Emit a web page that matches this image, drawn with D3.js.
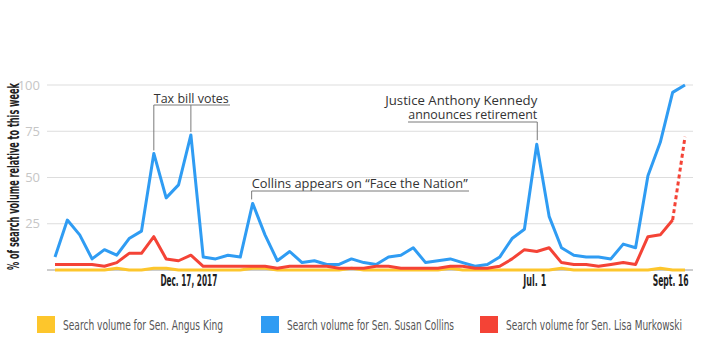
<!DOCTYPE html>
<html>
<head>
<meta charset="utf-8">
<script src="https://cdn.jsdelivr.net/npm/d3@7"></script>
<style>
  html, body { margin: 0; padding: 0; background: #fff; }
  svg { display: block; }
</style>
</head>
<body>
<svg id="chart" width="720" height="360"></svg>
<script>
// ---------- DATA ----------
const weekCount = 52;
const startWeek = new Date(2017, 9, 1);   // week of Oct. 1, 2017
const weeks = d3.range(weekCount).map(i => d3.timeWeek.offset(startWeek, i));

const kingValues = [0,0,0,0,0,1,0,0,1,1,0,0,0,0,0,0,1,1,0,0,0,0,0,0,1,0,0,0,0,0,0,0,1,0,0,0,0,0,0,0,0,1,0,0,0,0,0,0,0,1,0,0];
const collinsValues = [7,27,19,6,11,8,17,21,63,39,46,73,7,6,8,7,36,19,5,10,4,5,3,3,6,4,3,7,8,12,4,5,6,4,2,3,7,17,22,68,29,12,8,7,7,6,14,12,51,69,96,100];
const murkowskiValues = [3,3,3,3,2,4,9,9,18,6,5,8,2,2,2,2,2,2,1,2,2,2,2,1,1,1,2,2,1,1,1,1,2,2,1,1,2,6,11,10,12,4,3,3,2,3,4,3,18,19,27,72];

const yTicks = [25, 50, 75, 100];
const xTickDates = [new Date(2017, 11, 17), new Date(2018, 6, 1), new Date(2018, 8, 16)];
const xTickLabels = ["Dec. 17, 2017", "Jul. 1", "Sept. 16"];

const seriesNames = ["Search volume for Sen. Angus King", "Search volume for Sen. Susan Collins", "Search volume for Sen. Lisa Murkowski"];
const seriesColors = ["#fdc62c", "#2f9cf3", "#f44336"];

const annotationTexts = [["Tax bill votes"], ["Collins appears on \u201cFace the Nation\u201d"], ["Justice Anthony Kennedy", "announces retirement"]];
const annotationWeeks = [[8, 11], [16], [39]];

// ---------- CHART ----------
const svg = d3.select("#chart");
const x = d3.scaleTime().domain([weeks[0], weeks[weekCount - 1]]).range([55, 685]);
const y = d3.scaleLinear().domain([0, 100]).range([270, 85]);
const font = "'Open Sans', 'Noto Sans', sans-serif";
const narrow = "'Liberation Sans Narrow', 'DejaVu Sans Condensed', 'Roboto', sans-serif";

// gridlines
svg.append("g").selectAll("line").data(yTicks).join("line")
  .attr("x1", 47).attr("x2", 693)
  .attr("y1", d => y(d)).attr("y2", d => y(d))
  .attr("stroke", "#dddddd").attr("stroke-width", 1);

// y tick labels
svg.append("g").selectAll("text").data(yTicks).join("text")
  .attr("x", 40).attr("y", d => y(d))
  .attr("dy", "0.35em")
  .attr("text-anchor", "end")
  .attr("font-family", font).attr("font-size", 13)
  .attr("fill", "#c6c6c6")
  .text(d => d);

// baseline
svg.append("line")
  .attr("x1", 47).attr("x2", 693)
  .attr("y1", y(0)).attr("y2", y(0))
  .attr("stroke", "#9a9a9a").attr("stroke-width", 1);

// y-axis title
svg.append("text")
  .attr("transform", `translate(13.5,${(y(0) + 83) / 2}) rotate(-90)`)
  .attr("text-anchor", "middle").attr("dy", "0.35em")
  .attr("font-family", narrow)
  .attr("font-size", 15).attr("font-weight", 600)
  .attr("fill", "#222")
  .attr("textLength", 187).attr("lengthAdjust", "spacingAndGlyphs")
  .text("% of search volume relative to this week");

// x tick labels
const xLabelWidths = [57, 23, 36];
svg.append("g").selectAll("text").data(xTickDates).join("text")
  .attr("x", d => x(d) - 2).attr("y", 285.5)
  .attr("text-anchor", "middle")
  .attr("font-family", narrow)
  .attr("font-size", 15.5).attr("font-weight", 700)
  .attr("fill", "#1e1e1e")
  .attr("textLength", (d, i) => xLabelWidths[i]).attr("lengthAdjust", "spacingAndGlyphs")
  .text((d, i) => xTickLabels[i]);

// lines
const line = d3.line().x((d, i) => x(weeks[i])).y(d => y(d));
const lineG = svg.append("g").attr("fill", "none").attr("stroke-width", 3)
  .attr("stroke-linejoin", "round").attr("stroke-linecap", "butt");

lineG.append("path").datum(kingValues).attr("stroke", seriesColors[0]).attr("d", line);
lineG.append("path").datum(collinsValues).attr("stroke", seriesColors[1]).attr("d", line);
// Murkowski: solid up to the next-to-last week, dotted last segment
const mSolid = murkowskiValues.slice(0, weekCount - 1);
lineG.append("path").datum(mSolid).attr("stroke", seriesColors[2]).attr("d", line);
const dottedLine = d3.line().x(d => x(weeks[d])).y(d => y(murkowskiValues[d]));
lineG.append("path").datum([weekCount - 2, weekCount - 1])
  .attr("stroke", seriesColors[2]).attr("stroke-dasharray", "4,3")
  .attr("d", dottedLine);

// annotations
const annG = svg.append("g").attr("font-family", font).attr("font-size", 13).attr("fill", "#333");
const leader = (x1, y1, x2, y2) => annG.append("line")
  .attr("x1", x1).attr("y1", y1).attr("x2", x2).attr("y2", y2)
  .attr("stroke", "#7a7a7a").attr("stroke-width", 1);

// 1. Tax bill votes
{
  const xs = annotationWeeks[0].map(i => x(weeks[i]));
  const ul = 105;
  annG.append("text").attr("x", xs[0]).attr("y", 102.5)
    .attr("textLength", 75).attr("lengthAdjust", "spacingAndGlyphs")
    .text(annotationTexts[0][0]);
  leader(xs[0], ul, 230, ul);
  annotationWeeks[0].forEach((wi, k) => leader(xs[k], ul, xs[k], y(collinsValues[wi]) - 3));
}
// 2. Face the Nation
{
  const xa = x(weeks[annotationWeeks[1][0]]) - 1;
  const ul = 191;
  annG.append("text").attr("x", xa).attr("y", 188)
    .attr("textLength", 216).attr("lengthAdjust", "spacingAndGlyphs")
    .text(annotationTexts[1][0]);
  leader(xa, ul, 469, ul);
  leader(xa, ul, xa, y(collinsValues[annotationWeeks[1][0]]) - 4);
}
// 3. Kennedy
{
  const xa = x(weeks[annotationWeeks[2][0]]) + 0.5;
  const ul = 122;
  annG.append("text").attr("x", xa).attr("y", 105.3).attr("text-anchor", "end")
    .attr("textLength", 152).attr("lengthAdjust", "spacingAndGlyphs")
    .text(annotationTexts[2][0]);
  annG.append("text").attr("x", xa).attr("y", 119.3).attr("text-anchor", "end")
    .attr("textLength", 129).attr("lengthAdjust", "spacingAndGlyphs")
    .text(annotationTexts[2][1]);
  leader(408, ul, xa, ul);
  leader(xa, ul, xa, y(collinsValues[annotationWeeks[2][0]]) - 4);
}

// legend
const legendX = [37, 261, 480];
const legendW = [160, 167, 176];
const leg = svg.append("g").selectAll("g").data(seriesNames).join("g")
  .attr("transform", (d, i) => `translate(${legendX[i]},316)`);
leg.append("rect").attr("width", 18).attr("height", 17).attr("fill", (d, i) => seriesColors[i]);
leg.append("text").attr("x", 26).attr("y", 13.5)
  .attr("font-family", narrow)
  .attr("font-size", 14).attr("fill", "#555")
  .attr("textLength", (d, i) => legendW[i]).attr("lengthAdjust", "spacingAndGlyphs")
  .text(d => d);
</script>
</body>
</html>
